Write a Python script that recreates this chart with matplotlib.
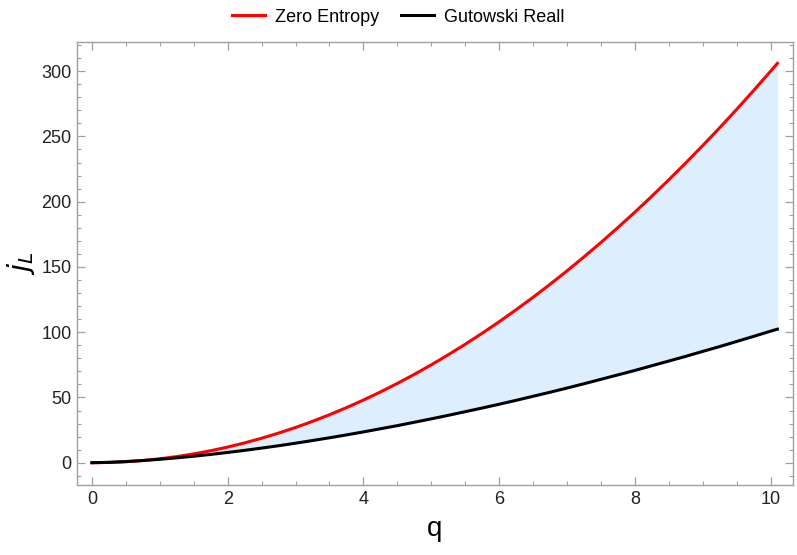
import numpy as np
import matplotlib.pyplot as plt
from matplotlib.ticker import MultipleLocator

# values
q = [0, 0.25, 0.5, 0.75, 1, 1.25, 1.5, 1.75, 2, 2.25, 2.5, 2.75, 3, 3.25,
     3.5, 3.75, 4, 4.25, 4.5, 4.75, 5, 5.25, 5.5, 5.75, 6, 6.25, 6.5, 6.75,
     7, 7.25, 7.5, 7.75, 8, 8.25, 8.5, 8.75, 9, 9.25, 9.5, 9.75, 10, 10.1]
zero_entropy = [0, 0.19, 0.75, 1.7, 3, 4.7, 6.75, 9.2, 12, 15.2, 18.75, 22.7,
                27, 31.7, 36.75, 42.2, 48, 54.2, 60.75, 67.7, 75, 82.7, 90.75,
                99.2, 108, 117.2, 126.75, 136.7, 147, 157.7, 168.75, 180.2,
                192, 204.2, 216.75, 229.7, 243, 256.7, 270.75, 285.2, 300, 306]
gutowski_reall = [0, 0.29, 0.87, 1.66, 2.62, 3.73, 4.98, 6.36, 7.86, 9.48,
                  11.2, 13.0, 14.95, 17.0, 19.1, 21.3, 23.6, 26.0, 28.4, 31.0,
                  33.6, 36.3, 39.1, 41.9, 44.8, 47.8, 50.9, 54.0, 57.2, 60.5,
                  63.9, 67.3, 70.7, 74.3, 77.9, 81.5, 85.3, 89.0, 92.9, 96.8,
                  100.8, 102.3]

plt.rcParams['font.family'] = ['Liberation Sans', 'DejaVu Sans']

fig = plt.figure(figsize=(7.97, 5.55), dpi=100)
ax = fig.add_axes([0.0966, 0.1256, 0.8984, 0.7993])

ax.fill_between(q, gutowski_reall, zero_entropy, color='#ddeefc', lw=0)
ax.plot(q, zero_entropy, color='#ff0000', lw=2.2, label='Zero Entropy')
ax.plot(q, gutowski_reall, color='black', lw=2.2, label='Gutowski Reall')

ax.set_xlim(-0.22, 10.33)
ax.set_ylim(-17.3, 322.6)

ax.xaxis.set_major_locator(MultipleLocator(2))
ax.xaxis.set_minor_locator(MultipleLocator(0.5))
ax.yaxis.set_major_locator(MultipleLocator(50))
ax.yaxis.set_minor_locator(MultipleLocator(10))

frame = '#a0a0a0'
for s in ax.spines.values():
    s.set_color(frame)
    s.set_linewidth(1.0)
ax.tick_params(which='both', direction='in', top=True, right=True,
               color=frame, labelsize=13, labelcolor='#222222')
ax.tick_params(which='major', length=5.5, width=0.9, pad=4)
ax.tick_params(which='minor', length=3.2, width=0.8)

ax.set_xlabel('q', fontsize=20, labelpad=6)
ax.set_ylabel('$j_L$', fontsize=21, labelpad=3)

fig.legend(loc='center', bbox_to_anchor=(0.5, 0.969), ncol=2,
           frameon=False, fontsize=13, handlelength=1.8,
           columnspacing=1.2, handletextpad=0.6)

fig.savefig('out.png', dpi=100)
